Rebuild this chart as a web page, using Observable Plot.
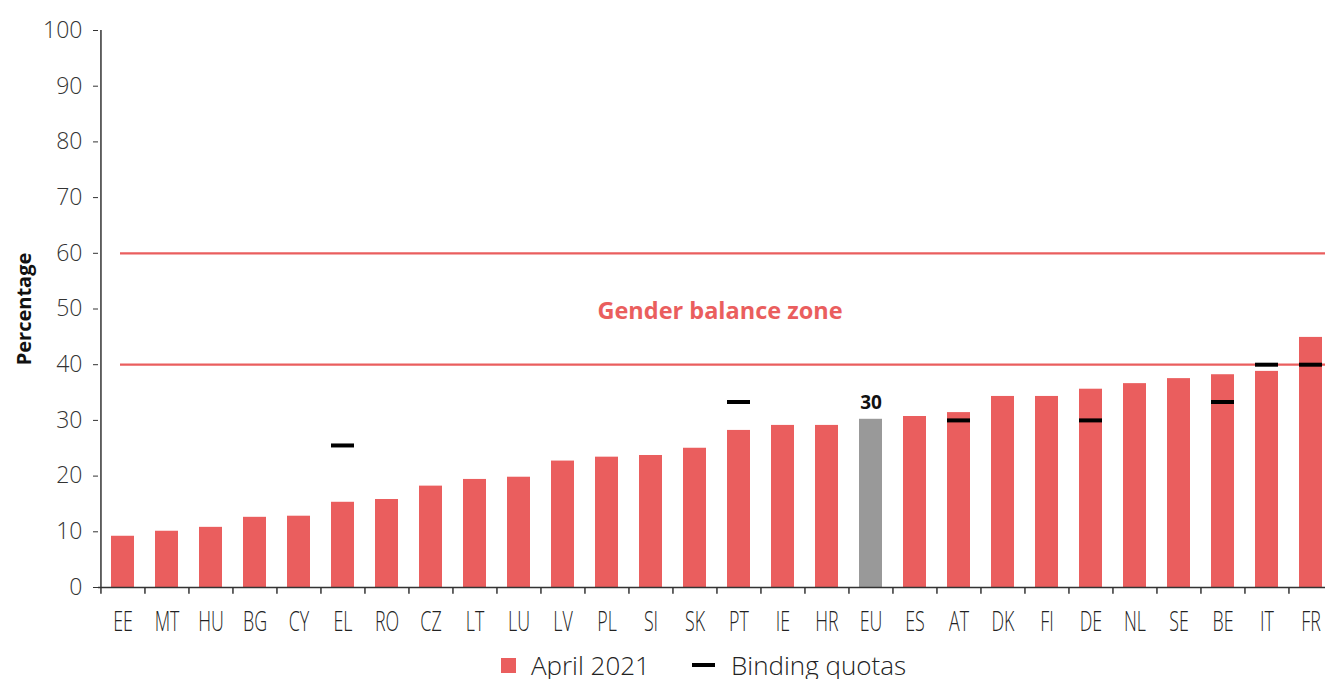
<!DOCTYPE html>
<html>
<head>
<meta charset="utf-8">
<script src="https://cdn.jsdelivr.net/npm/d3@7"></script>
<script src="https://cdn.jsdelivr.net/npm/@observablehq/plot@0.6"></script>
<style>
  html, body { margin: 0; padding: 0; background: #fff; }
  #chart { width: 1325px; }
  .legend { display: flex; justify-content: center; align-items: center; margin-left: 82px; padding-top: 6px;
            font-family: "Open Sans", sans-serif; font-weight: 300; font-size: 26px; color: #222; line-height: 28px; height: 28px; }
  .legend .sw { width: 15px; height: 15px; background: #EA5E5E; margin-right: 15px; }
  .legend .dash { width: 23px; height: 4px; background: #000; margin-left: 42px; margin-right: 16px; }
</style>
</head>
<body>
<div id="chart"></div>
<script>
const countries = ["EE","MT","HU","BG","CY","EL","RO","CZ","LT","LU","LV","PL","SI","SK","PT","IE","HR","EU","ES","AT","DK","FI","DE","NL","SE","BE","IT","FR"];
const april2021 = [9.2,10.1,10.8,12.6,12.8,15.3,15.8,18.2,19.4,19.8,22.7,23.4,23.7,25.0,28.2,29.1,29.1,30.2,30.7,31.4,34.3,34.3,35.6,36.6,37.5,38.2,38.8,44.9];
const quotaCountries = ["EL","PT","AT","DE","BE","IT","FR"];
const quotaValues = [25.5,33.3,30,30,33.3,40,40];
const zoneBounds = [40, 60];
const zoneLabel = "Gender balance zone";
const euLabel = "30";
const yTicks = [0,10,20,30,40,50,60,70,80,90,100];

const RED = "#EA5E5E";
const GREY = "#999999";

const bars = countries.map((c, i) => ({country: c, value: april2021[i]}));
const quotas = quotaCountries.map((c, i) => ({country: c, value: quotaValues[i]}));
const euRow = bars.filter(d => d.country === "EU");

const step = (1334 - 99) / countries.length;

const chart = Plot.plot({
  width: 1325,
  height: 645,
  marginLeft: 98,
  marginRight: 0,
  marginTop: 30,
  marginBottom: 58,
  style: {fontFamily: "'Open Sans', sans-serif", background: "#fff", overflow: "visible"},
  x: {domain: countries, range: [99, 1334], paddingInner: 0.478, paddingOuter: 0.239, label: null},
  y: {domain: [0, 100], label: null},
  marks: [
    Plot.ruleY(zoneBounds, {stroke: RED, strokeWidth: 2.2, insetLeft: 22}),
    Plot.barY(bars, {x: "country", y: "value", fill: d => d.country === "EU" ? GREY : RED}),
    Plot.tickY(quotas, {x: "country", y: "value", stroke: "#000", strokeWidth: 4}),
    Plot.text(euRow, {x: "country", y: "value", text: () => euLabel, lineAnchor: "bottom", dy: -10,
      fontSize: 19, fontWeight: 700, fill: "#111"}),
    Plot.text([zoneLabel], {x: () => "PT", y: () => 50, text: d => d, dx: -19, dy: 2, fontSize: 23.5, fontWeight: 700, fill: RED, textAnchor: "middle"}),
    Plot.ruleY([0], {stroke: "#333", strokeWidth: 1.5}),
    Plot.ruleX([countries[0]], {x: d => d, dx: -step / 2, y1: 0, y2: 100, stroke: "#333", strokeWidth: 1.5}),
    Plot.ruleX(countries, {x: d => d, dx: -step / 2, y1: 0, y2: -1.2, stroke: "#333", strokeWidth: 1.5}),
    Plot.axisY({ticks: yTicks, tickSize: 5, tickPadding: 11, fontSize: 23, fill: "#333", stroke: "#333", label: null}),
    Plot.axisX({tickSize: 0, tickPadding: 24, fontSize: 27, fill: "#222", label: null}),
    Plot.text(["Percentage"], {frameAnchor: "left", dx: -74, text: d => d, rotate: -90, textAnchor: "middle", fontSize: 20, fontWeight: 700, fill: "#111"})
  ]
});

// condense the category labels like the original's condensed typeface
d3.select(chart).selectAll("g[aria-label='x-axis tick label'] text").each(function() {
  const t = this.getAttribute("transform") || "";
  this.setAttribute("transform", t + " scale(0.66,1)");
});
d3.select(chart).selectAll("g[aria-label='x-axis tick label']").attr("font-weight", 300);
d3.select(chart).selectAll("g[aria-label='y-axis tick label']").attr("font-weight", 300);

document.getElementById("chart").appendChild(chart);

const legend = document.createElement("div");
legend.className = "legend";
legend.innerHTML = '<div class="sw"></div><span>April 2021</span><div class="dash"></div><span>Binding quotas</span>';
document.getElementById("chart").appendChild(legend);
</script>
</body>
</html>
